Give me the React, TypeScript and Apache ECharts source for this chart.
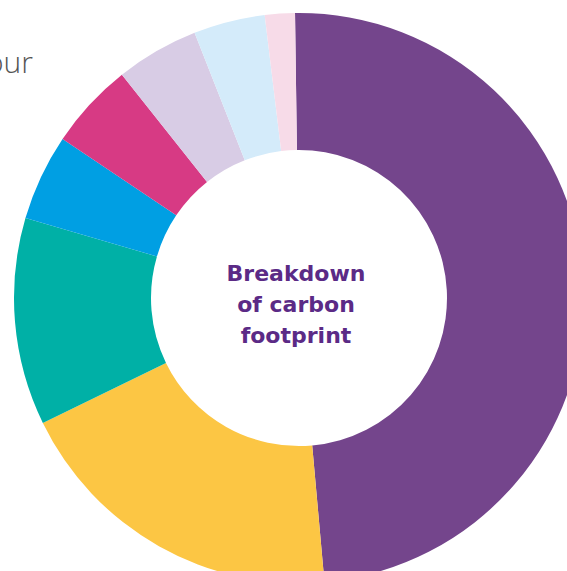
import React, { useEffect, useRef } from "react";
import * as echarts from "echarts";

const categories = [
  "Category A",
  "Category B",
  "Category C",
  "Category D",
  "Category E",
  "Category F",
  "Category G",
  "Category H",
];
const shares = [48.8, 19.2, 11.75, 4.9, 4.9, 4.7, 4.05, 1.7];
const colors = [
  "#74458C",
  "#FCC644",
  "#00B0A6",
  "#009FE3",
  "#D73A84",
  "#D8CCE5",
  "#D4EBFA",
  "#F7DBE8",
];
const centerLines = ["Breakdown", "of carbon", "footprint"];
const cornerText = "our";

export default function App() {
  const ref = useRef<HTMLDivElement>(null);
  useEffect(() => {
    if (!ref.current) return;
    const chart = echarts.init(ref.current, null, { renderer: "svg" });
    chart.setOption({
      animation: false,
      backgroundColor: "#ffffff",
      series: [
        {
          type: "pie",
          center: [299, 298],
          radius: [148, 285],
          startAngle: 90.8,
          clockwise: true,
          silent: true,
          label: { show: false },
          labelLine: { show: false },
          itemStyle: { borderWidth: 0 },
          data: categories.map((name, i) => ({
            name,
            value: shares[i],
            itemStyle: { color: colors[i] },
          })),
        },
      ],
      graphic: [
        {
          type: "text",
          x: 296,
          y: 304,
          style: {
            text: centerLines.join("\n"),
            align: "center",
            verticalAlign: "middle",
            font: "bold 22px 'DejaVu Sans'",
            fill: "#5B2A86",
            lineHeight: 31,
          },
        },
        {
          type: "text",
          x: 33,
          y: 61,
          style: {
            text: cornerText,
            align: "right",
            verticalAlign: "middle",
            font: "300 30px 'Open Sans'",
            fill: "#555555",
          },
        },
      ],
    });
    return () => chart.dispose();
  }, []);
  return (
    <div
      ref={ref}
      style={{ position: "fixed", left: 0, top: 0, width: 567, height: 571 }}
    />
  );
}
